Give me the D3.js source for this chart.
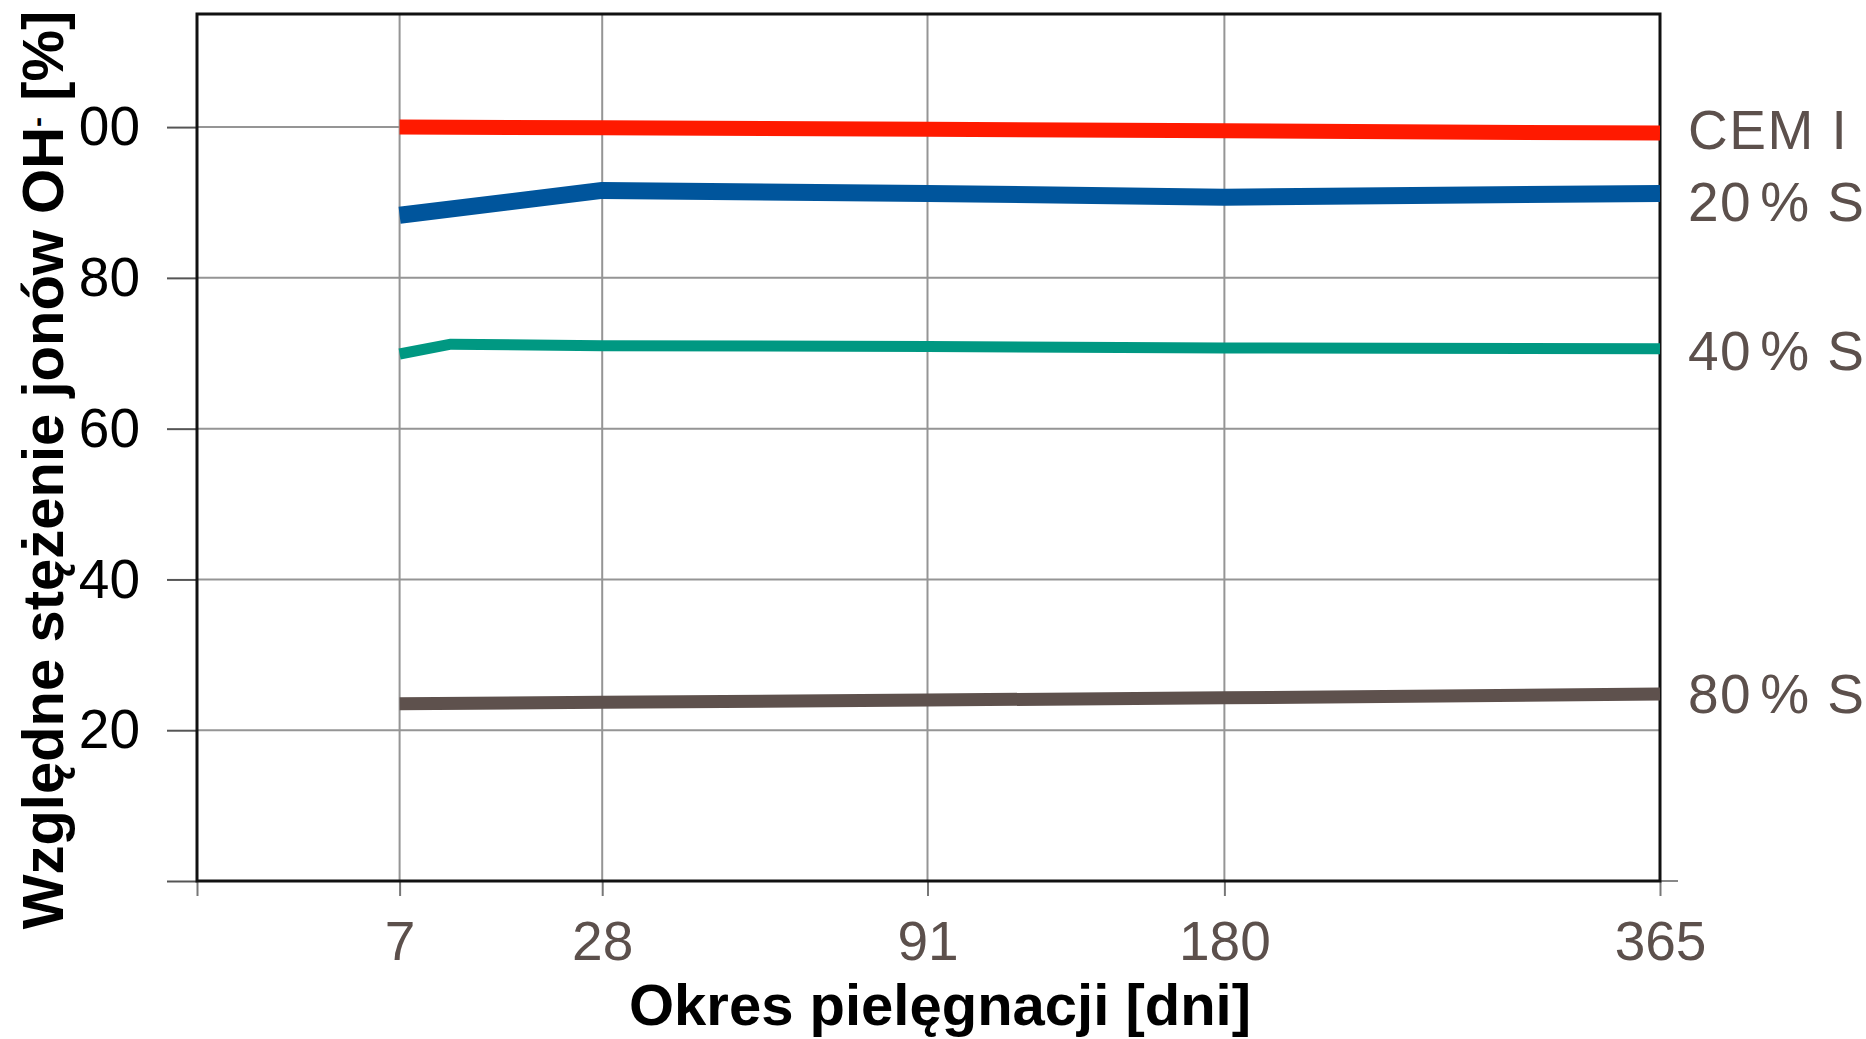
<!DOCTYPE html>
<html>
<head>
<meta charset="utf-8">
<script src="https://cdn.jsdelivr.net/npm/d3@7"></script>
<style>
  html, body { margin: 0; padding: 0; background: #fff; }
  svg { display: block; font-family: "Liberation Sans", Arial, sans-serif; }
</style>
</head>
<body>
<div id="chart"></div>
<script>
// curing time [days] and relative OH- concentration [%]
const days = [7, 28, 91, 180, 365];
const cemI = [100, 99.9, 99.7, 99.5, 99.2];
const slag20 = [88.3, 91.6, 91.2, 90.7, 91.2];
const slag40Days = [7, 11, 28, 91, 180, 365];
const slag40 = [69.9, 71.2, 71.0, 70.9, 70.7, 70.6];
const slag80 = [23.5, 23.7, 24.0, 24.3, 24.8];
const seriesNames = ["CEM I", "20% S", "40% S", "80% S"];

const xTicks = [7, 28, 91, 180, 365];
const yTicks = [20, 40, 60, 80, 100];
const yTickLabels = ["20", "40", "60", "80", "00"];

const W = 1866, H = 1039;
const plotL = 197, plotT = 14, plotR = 1660, plotB = 881;

const svg = d3.select("#chart").append("svg")
    .attr("width", W)
    .attr("height", H);

// x axis is square-root spaced in the original
const x = d3.scaleSqrt().domain([0, 365]).range([plotL, plotR]);
const y = d3.scaleLinear().domain([0, 115]).range([plotB, plotT]);

const gridColor = "#959595";
const tickColor = "#555";
const labelColor = "#5c504c";

// gridlines
svg.append("g")
    .selectAll("line")
    .data(yTicks)
    .join("line")
    .attr("x1", plotL).attr("x2", plotR)
    .attr("y1", d => y(d)).attr("y2", d => y(d))
    .attr("stroke", gridColor)
    .attr("stroke-width", 2);

svg.append("g")
    .selectAll("line")
    .data(xTicks.slice(0, -1))
    .join("line")
    .attr("x1", d => x(d)).attr("x2", d => x(d))
    .attr("y1", plotT).attr("y2", plotB)
    .attr("stroke", gridColor)
    .attr("stroke-width", 2);

// y axis (ticks outside the frame)
const yAxis = svg.append("g")
    .attr("transform", `translate(${plotL},0)`)
    .call(d3.axisLeft(y)
        .tickValues([0, ...yTicks])
        .tickSize(30)
        .tickPadding(27)
        .tickFormat(d => d === 0 ? "" : yTickLabels[yTicks.indexOf(d)]));
yAxis.select(".domain").remove();
yAxis.selectAll(".tick line").attr("stroke", tickColor).attr("stroke-width", 2);
yAxis.selectAll(".tick text")
    .attr("fill", "#000")
    .style("font-size", "55px");

// x axis
const xAxis = svg.append("g")
    .attr("transform", `translate(0,${plotB})`)
    .call(d3.axisBottom(x)
        .tickValues([0, ...xTicks])
        .tickSize(15)
        .tickPadding(25)
        .tickFormat(d => d === 0 ? "" : d));
xAxis.select(".domain").remove();
xAxis.selectAll(".tick line").attr("stroke", "#777").attr("stroke-width", 2);
xAxis.selectAll(".tick text")
    .attr("fill", labelColor)
    .style("font-size", "55px");

// extension of the zero line to the right
svg.append("line")
    .attr("x1", plotR).attr("x2", plotR + 18)
    .attr("y1", y(0)).attr("y2", y(0))
    .attr("stroke", "#888")
    .attr("stroke-width", 2);

// frame
svg.append("rect")
    .attr("x", plotL).attr("y", plotT)
    .attr("width", plotR - plotL).attr("height", plotB - plotT)
    .attr("fill", "none")
    .attr("stroke", "#111")
    .attr("stroke-width", 3);

// series
const series = [
    { name: seriesNames[0], days: days, values: cemI, color: "#ff1a00", width: 15, nudge: -3 },
    { name: seriesNames[1], days: days, values: slag20, color: "#00559c", width: 17, nudge: 9 },
    { name: seriesNames[2], days: slag40Days, values: slag40, color: "#009882", width: 11, nudge: 2 },
    { name: seriesNames[3], days: days, values: slag80, color: "#5e514d", width: 13, nudge: 0 }
];

const line = d3.line()
    .x(d => x(d[0]))
    .y(d => y(d[1]));

svg.append("g")
    .selectAll("path")
    .data(series)
    .join("path")
    .attr("d", s => line(s.days.map((d, i) => [d, s.values[i]])))
    .attr("fill", "none")
    .attr("stroke", s => s.color)
    .attr("stroke-width", s => s.width)
    .attr("stroke-linejoin", "round");

// series labels on the right; the "%" sits a little apart from the digits
const labels = svg.append("g")
    .selectAll("text")
    .data(series)
    .join("text")
    .attr("x", 1688)
    .attr("y", s => y(s.values[s.values.length - 1]) + s.nudge)
    .attr("dominant-baseline", "central")
    .attr("fill", labelColor)
    .attr("letter-spacing", 1.5)
    .style("font-size", "55px");

labels.each(function(s) {
    const t = d3.select(this);
    const i = s.name.indexOf("%");
    if (i < 0) { t.text(s.name); return; }
    t.append("tspan").text(s.name.slice(0, i));
    t.append("tspan").attr("dx", 8).text(s.name.slice(i));
});

// axis titles
svg.append("text")
    .attr("x", 940)
    .attr("y", 1025)
    .attr("text-anchor", "middle")
    .attr("fill", "#000")
    .style("font-size", "58px")
    .style("font-weight", "bold")
    .text("Okres pielęgnacji [dni]");

const yTitle = svg.append("text")
    .attr("transform", "translate(63,470) rotate(-90)")
    .attr("text-anchor", "middle")
    .attr("fill", "#000")
    .style("font-size", "58px")
    .style("font-weight", "bold");
yTitle.append("tspan").text("Względne stężenie jonów OH");
yTitle.append("tspan")
    .attr("baseline-shift", "super")
    .style("font-size", "30px")
    .text("-");
yTitle.append("tspan").text(" [%]");
</script>
</body>
</html>
